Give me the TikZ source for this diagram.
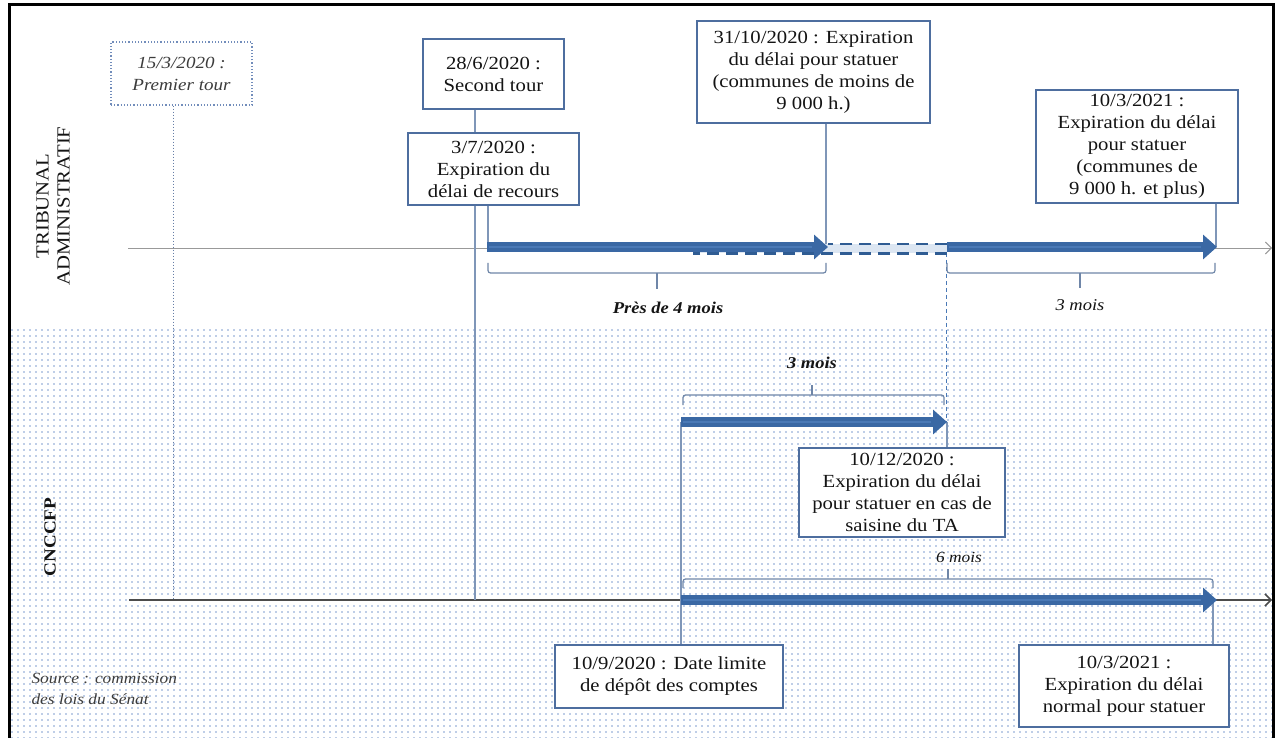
\documentclass[tikz,border=0pt]{standalone}
\usepackage{fontspec}
\setmainfont{Liberation Serif}[FakeStretch=1.12]
\usetikzlibrary{arrows.meta,patterns.meta}

\definecolor{boxblue}{HTML}{4E6E9F}
\definecolor{linkblue}{HTML}{7F96B8}
\definecolor{arrowblue}{HTML}{3A68A4}
\definecolor{arrowhi}{HTML}{4A79B6}
\definecolor{dashblue}{HTML}{2F5C93}
\definecolor{bandblue}{HTML}{DCE6F2}
\definecolor{dotblue}{HTML}{7F9DD0}
\definecolor{bracec}{HTML}{6F86A8}
\definecolor{textdark}{HTML}{141414}
\definecolor{softgray}{HTML}{3C3C3C}

\newcommand\boxfont{\fontsize{18.5}{22}\selectfont}

\tikzset{
  box/.style={draw=boxblue, line width=1.2pt, fill=white, align=center,
    inner sep=0pt, font=\boxfont, text=textdark},
  link/.style={draw=linkblue, line width=1.3pt},
  bigarrow/.style={draw=arrowblue, line width=10pt,
    -{Triangle[length=14pt,width=24pt]}},
  brace/.style={draw=bracec, line width=1.2pt, rounded corners=2.5pt},
  axisline/.style={-{Straight Barb[length=6pt,width=12pt]}},
  span/.style={font=\fontsize{16.5}{20}\selectfont\itshape, text=textdark},
}

\begin{document}
\begin{tikzpicture}[x=1pt,y=-1pt]
\useasboundingbox (0,0) rectangle (1278,738);
\fill[white] (0,0) rectangle (1278,738);

% dotted backdrop of the lower band
\fill[pattern={Dots[distance=6pt,radius=0.9pt]}, pattern color=dotblue]
  (10,328) rectangle (1272,738);

% outer frame
\draw[line width=3pt] (9,748) -- (9,5) -- (1273,5) -- (1273,748);

% side titles
\node[rotate=90, align=center, font=\fontsize{18.5}{21}\selectfont, text=textdark]
  (ta) at (53,206) {TRIBUNAL\\ADMINISTRATIF};
\node[rotate=90, font=\fontsize{17}{20}\selectfont\bfseries, text=textdark]
  (cn) at (50,537) {CNCCFP};

% source
\node[anchor=west, align=left, font=\fontsize{15.5}{21}\selectfont\itshape,
  text=softgray] (src) at (28,689) {Source : commission\\des lois du Sénat};

% time axes
\coordinate (taL) at (128,248);
\coordinate (taR) at (1272,248);
\coordinate (cnL) at (129,600);
\coordinate (cnR) at (1272,600);
\draw[axisline, draw=gray!80, line width=0.9pt] (taL) -- (taR);
\draw[axisline, draw=black!70, line width=1.5pt] (cnL) -- (cnR);

% event boxes
\node[box, draw=dotblue!90!black, dotted, minimum width=141pt, minimum height=63pt,
  font=\fontsize{17}{22}\selectfont\itshape, text=softgray]
  (b1503) at (181.5,73.5) {15/3/2020 :\\Premier tour};
\node[box, minimum width=141pt, minimum height=70pt]
  (b2806) at (493.5,74) {28/6/2020 :\\Second tour};
\node[box, minimum width=171pt, minimum height=72pt]
  (b0307) at (493.5,169) {3/7/2020 :\\Expiration du\\délai de recours};
\node[box, minimum width=233pt, minimum height=102pt]
  (b3110) at (813.5,72) {31/10/2020 : Expiration\\du délai pour statuer\\(communes de moins de\\9 000 h.)};
\node[box, minimum width=202pt, minimum height=113pt]
  (b1003a) at (1137,146.5) {10/3/2021 :\\Expiration du délai\\pour statuer\\(communes de\\9 000 h. et plus)};
\node[box, minimum width=206pt, minimum height=89pt]
  (b1012) at (902,492.5) {10/12/2020 :\\Expiration du délai\\pour statuer en cas de\\saisine du TA};
\node[box, minimum width=228pt, minimum height=63pt]
  (b1009) at (669,676.5) {10/9/2020 : Date limite\\de dépôt des comptes};
\node[box, minimum width=210pt, minimum height=82pt]
  (b1003b) at (1124,686) {10/3/2021 :\\Expiration du délai\\normal pour statuer};

% timeline anchor points
\coordinate (p0307) at (488,247);
\coordinate (p3110) at (828,247);
\coordinate (p1012ta) at (947,247);
\coordinate (p1003a) at (1217,247);
\coordinate (q1009) at (681,422);
\coordinate (q1012) at (947,422);
\coordinate (r1009) at (681,600);
\coordinate (r1003) at (1217,600);
\coordinate (c1503) at (173,598);
\coordinate (c2806) at (475,600);

% drop lines
\draw[draw=dotblue!80!black, line width=1pt, dotted] (b1503.south -| c1503) -- (c1503);
\draw[link] (b2806.south -| c2806) -- (b0307.north -| c2806);
\draw[link] (b0307.south -| c2806) -- (c2806);
\draw[link] (b0307.south -| p0307) -- (p0307);
\draw[link] (b3110.south -| 826,0) -- (826,247);
\draw[link] (b1003a.south -| 1216,0) -- (1216,247);
\draw[draw=arrowhi, line width=1pt, dash pattern=on 4pt off 3pt] (946,253) -- (946,422);
\draw[link] (q1012) -- (b1012.north -| q1012);
\draw[link] (q1009) -- (b1009.north -| q1009);
\draw[link] (1213,600) -- (b1003b.north -| 1213,0);

% extension band between the two tribunal deadlines
\fill[bandblue] (693,244) rectangle (947,253);
\draw[dashblue, line width=2.6pt, dash pattern=on 12pt off 7pt] (947,244) -- (828,244);
\draw[dashblue, line width=2.6pt, dash pattern=on 12pt off 7pt] (947,253.5) -- (693,253.5);

% duration arrows
\draw[bigarrow] (487,247) -- (p3110);
\draw[bigarrow] (p1012ta) -- (p1003a);
\draw[bigarrow] (q1009) -- (q1012);
\draw[bigarrow] (r1009) -- (r1003);
\foreach \a/\b/\y in {487/812/247, 947/1201/247, 681/931/422, 681/1201/600}
  \draw[arrowhi, line width=2.5pt] (\a+2,\y) -- (\b,\y);

% braces
\draw[brace] (488,263) -- (488,273) -- (826,273) -- (826,263);
\draw[brace] (657,273) -- (657,289);
\draw[brace] (947,263) -- (947,273) -- (1215,273) -- (1215,263);
\draw[brace] (1080,273) -- (1080,288);
\draw[brace] (683,405) -- (683,395) -- (944,395) -- (944,405);
\draw[brace] (812,395) -- (812,385);
\draw[brace] (683,588) -- (683,579) -- (1213,579) -- (1213,588);
\draw[brace] (948,579) -- (948,569);

% durations
\node[span, font=\fontsize{16.5}{20}\selectfont\bfseries\itshape] (d1) at (668,308) {Près de 4 mois};
\node[span] (d2) at (1080,305) {3 mois};
\node[span, font=\fontsize{16.5}{20}\selectfont\bfseries\itshape] (d3) at (812,363) {3 mois};
\node[span, font=\fontsize{15.5}{20}\selectfont\itshape] (d4) at (959,557) {6 mois};
\end{tikzpicture}
\end{document}
